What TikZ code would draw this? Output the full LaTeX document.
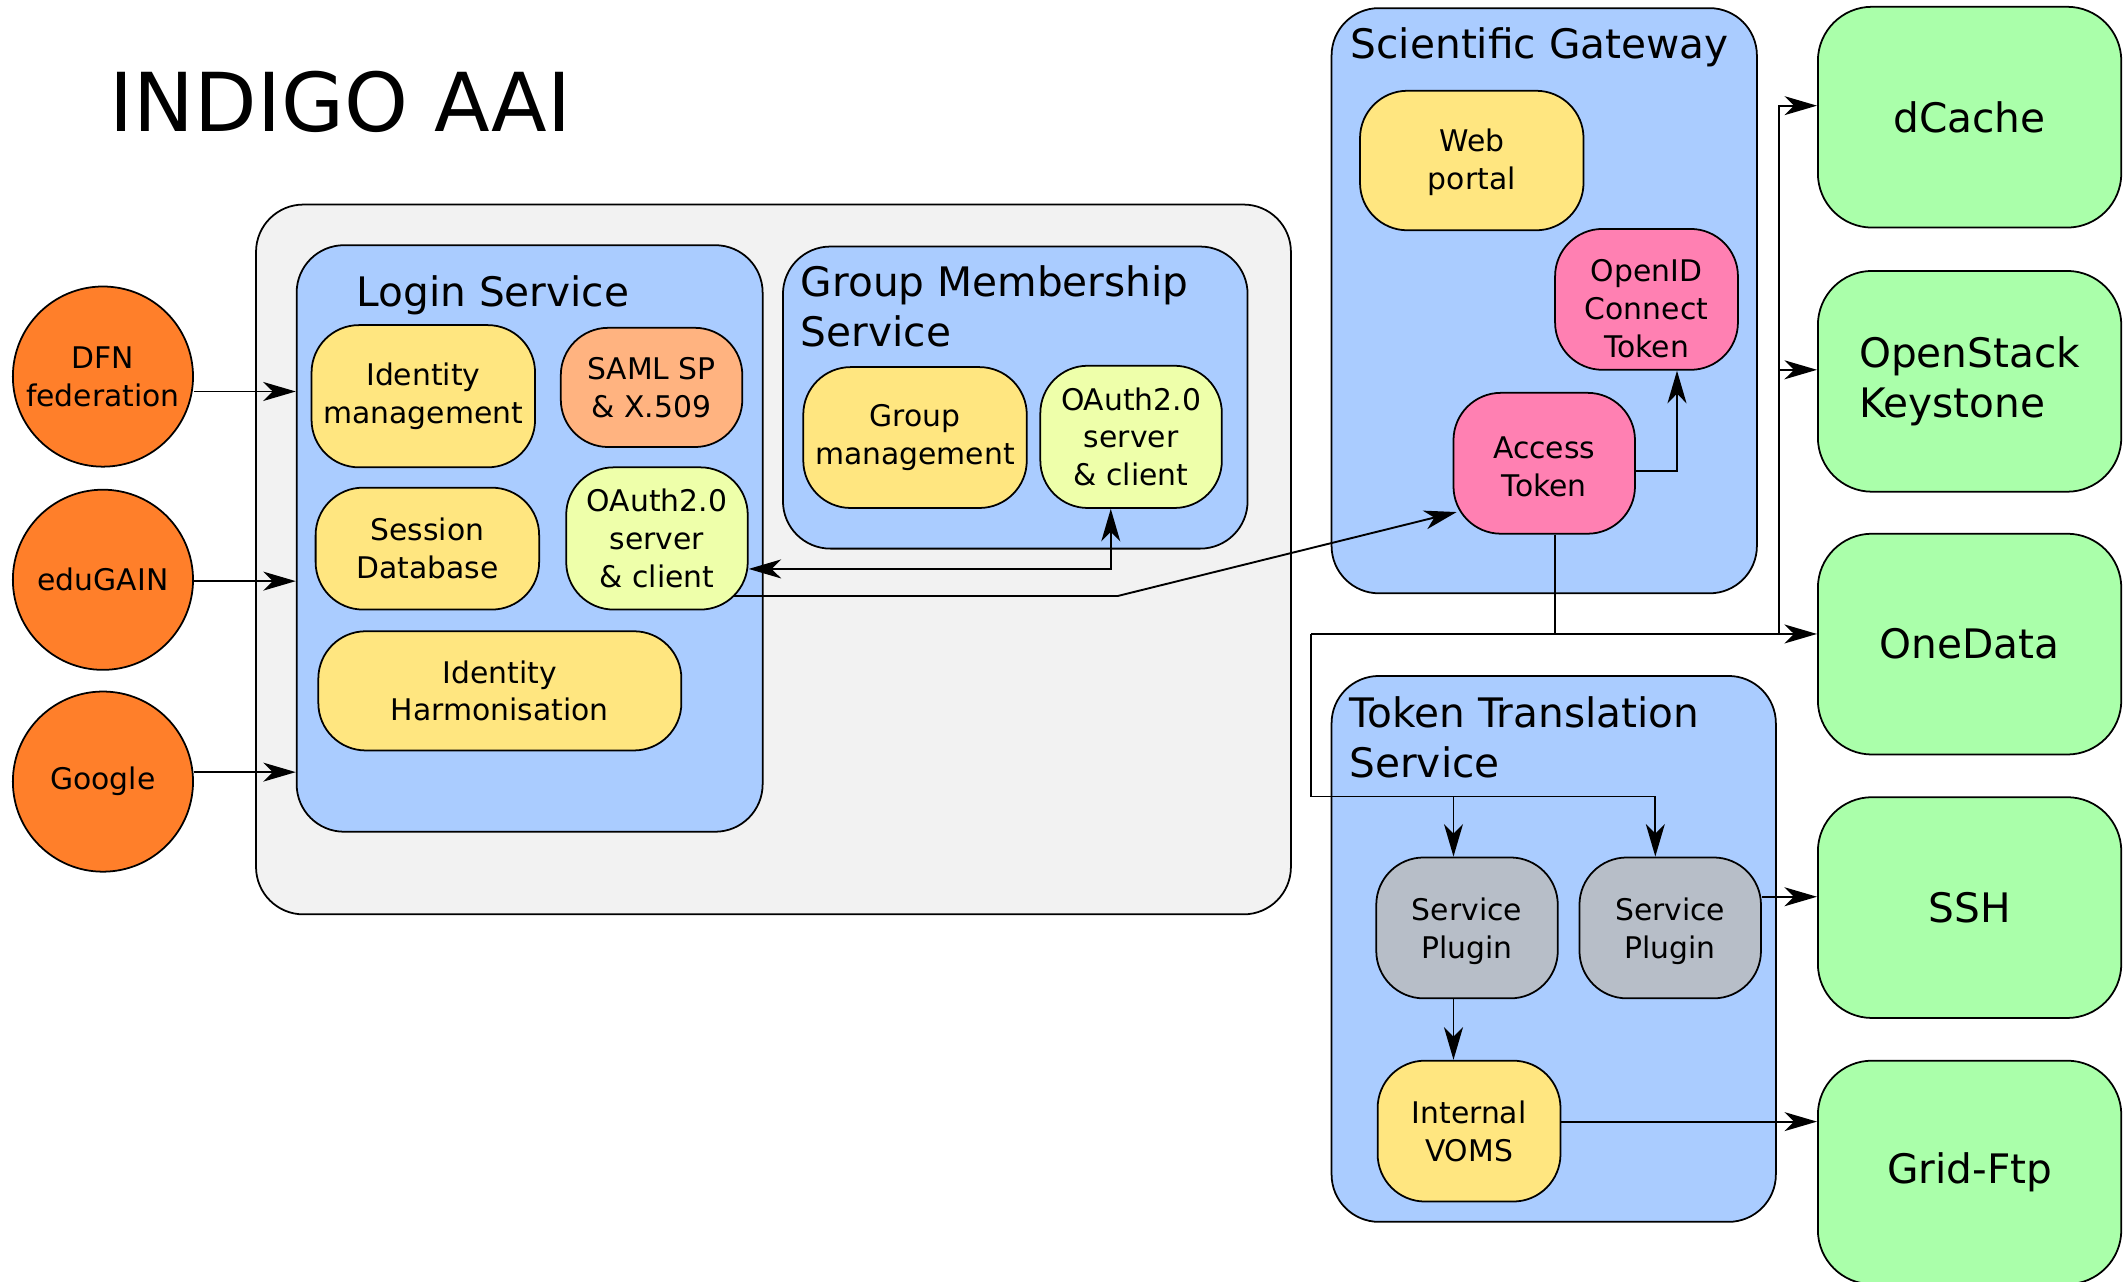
\documentclass[tikz,border=0pt]{standalone}
\usepackage{fontspec}
\setmainfont{DejaVu Sans}
\usetikzlibrary{arrows.meta}
\pgfdeclarelayer{bg}
\pgfdeclarelayer{conn}
\pgfsetlayers{bg,conn,main}
\definecolor{corange}{HTML}{FF7F2A}
\definecolor{cblue}{HTML}{AACCFF}
\definecolor{cgrey}{HTML}{F2F2F2}
\definecolor{cyellow}{HTML}{FFE680}
\definecolor{csalmon}{HTML}{FFB380}
\definecolor{clime}{HTML}{EEFFAA}
\definecolor{cpink}{HTML}{FF80B2}
\definecolor{cplug}{HTML}{B7BEC8}
\definecolor{cgreen}{HTML}{AAFFAA}
\tikzset{
  cont/.style={draw, line width=1.3pt, rounded corners=35pt, fill=cblue, inner sep=0pt},
  ttl/.style={inner sep=0pt, align=left, font=\fontsize{30}{37}\selectfont},
  box/.style={draw, line width=1.3pt, rounded corners=35pt, align=center, inner sep=0pt,
    font=\fontsize{22}{28}\selectfont, minimum width=134pt, minimum height=105pt},
  gbox/.style={draw, line width=1.3pt, rounded corners=40pt, fill=cgreen, align=left, inner sep=0pt,
    minimum width=224pt, minimum height=163pt, font=\fontsize{30}{37}\selectfont},
  idp/.style={circle, draw, line width=1.3pt, fill=corange, minimum size=133pt, inner sep=0pt,
    align=center, font=\fontsize{22}{28}\selectfont},
  tip/.tip={Stealth[length=24pt,width=14pt,inset=7pt]},
  arr/.style={line width=1.4pt, -tip},
  arrb/.style={line width=1.4pt, tip-tip},
  ln/.style={line width=1.4pt}
}
\begin{document}
\begin{tikzpicture}[x=1pt,y=-1pt]
\useasboundingbox (0,0) rectangle (1568,946);

\node[anchor=base west, inner sep=0pt, font=\fontsize{60}{72}\selectfont] (title) at (81,97) {INDIGO AAI};

\begin{pgfonlayer}{bg}
\node[cont, fill=cgrey, minimum width=764pt, minimum height=524pt] (aai) at (571,413) {};
\node[cont, minimum width=344pt, minimum height=433pt] (login) at (391,397.5) {};
\node[cont, minimum width=343pt, minimum height=223pt] (gms) at (749.5,293.5) {};
\node[cont, minimum width=314pt, minimum height=432pt] (sg) at (1140,222) {};
\node[cont, minimum width=328pt, minimum height=403pt] (tts) at (1147,700.5) {};
\end{pgfonlayer}

% container titles
\node[ttl, anchor=base west] (loginT) at (263,226) {Login Service};
\node[ttl, anchor=west] (gmsT) at (591,226) {Group Membership\\Service};
\node[ttl, anchor=base west] (sgT) at (997,43) {Scientific Gateway};
\node[ttl, anchor=west] (ttsT) at (996,544) {Token Translation\\Service};

% identity providers
\node[idp] (dfn) at (76,278) {DFN\\federation};
\node[idp] (edugain) at (76,428) {eduGAIN};
\node[idp] (google) at (76,577) {Google};

% login service
\node[box, fill=cyellow, minimum width=165pt] (idm) at (312.5,292.5) {Identity\\management};
\node[box, fill=csalmon, minimum height=88pt] (saml) at (481,286) {SAML SP\\\& X.509};
\node[box, fill=cyellow, minimum width=165pt, minimum height=90pt] (sessdb) at (315.5,405) {Session\\Database};
\node[box, fill=clime] (oauthL) at (485,397.5) {OAuth2.0\\server\\\& client};
\node[box, fill=cyellow, minimum width=268pt, minimum height=88pt] (idh) at (369,510) {Identity\\Harmonisation};

% group membership service
\node[box, fill=cyellow, minimum width=165pt, minimum height=104pt] (grpm) at (675.5,323) {Group\\management};
\node[box, fill=clime] (oauthR) at (835,322.5) {OAuth2.0\\server\\\& client};

% scientific gateway
\node[box, fill=cyellow, minimum width=165pt, minimum height=103pt] (web) at (1086.5,118.5) {\rule{0pt}{19pt}Web\\portal};
\node[box, fill=cpink, minimum width=135pt, minimum height=104pt] (oidc) at (1215.5,221) {\rule{0pt}{30.5pt}OpenID\\Connect\\Token};
\node[box, fill=cpink, minimum height=104pt] (at) at (1140,342) {\rule{0pt}{21pt}Access\\Token};

% token translation service
\node[box, fill=cplug, minimum height=104pt] (sp1) at (1083,685) {\rule{0pt}{21pt}Service\\Plugin};
\node[box, fill=cplug, minimum height=104pt] (sp2) at (1233,685) {\rule{0pt}{21pt}Service\\Plugin};
\node[box, fill=cyellow, minimum width=135pt, minimum height=104pt] (voms) at (1084.5,835) {Internal\\VOMS};

% services
\node[gbox] (dcache) at (1454,86.5) {dCache};
\node[gbox] (openstack) at (1454,281.5) {OpenStack\\Keystone};
\node[gbox] (onedata) at (1454,475.5) {OneData};
\node[gbox] (ssh) at (1454,670) {SSH};
\node[gbox, minimum height=165pt] (gridftp) at (1454,865.5) {Grid-Ftp};

% junctions
\coordinate (bend1) at (825,440);
\coordinate (j0) at (968,468);
\coordinate (j1) at (1313,468);
\coordinate (j2) at (968,588);

\begin{pgfonlayer}{conn}
\draw[arr] ([yshift=-11pt]dfn.east) -- ([yshift=-11pt]dfn.east -| login.west);
\draw[arr] ([yshift=-1pt]edugain.east) -- ([yshift=-1pt]edugain.east -| login.west);
\draw[arr] ([yshift=7pt]google.east) -- ([yshift=7pt]google.east -| login.west);

\draw[arrb] ([yshift=-22.5pt]oauthL.east) -| ([xshift=-15pt]oauthR.south);
\draw[arr] ([yshift=-42.5pt]oauthL.center) -- (bend1) -- ([xshift=3pt,yshift=-36pt]at.west);
\draw[arr] ([yshift=-6pt]at.east) -| ([xshift=22.5pt]oidc.south);

\draw[ln] ([xshift=8pt]at.south) -- ([xshift=8pt]at.south |- j0);
\draw[arr] (j0) -- (j0 -| onedata.west);
\draw[arr] (j1) |- ([yshift=8.5pt]dcache.west);
\draw[arr] (j1) |- ([yshift=8.5pt]openstack.west);
\draw[arr] (j0) |- ([xshift=-11pt]sp2.north |- j2) -- ([xshift=-11pt]sp2.north);
\draw[arr] ([xshift=-10pt]sp1.north |- j2) -- ([xshift=-10pt]sp1.north);

\draw[arr] ([yshift=23pt]sp2.east) -- ([yshift=23pt]sp2.east -| ssh.west);
\draw[arr] ([xshift=-10pt]sp1.south) -- ([xshift=-10pt]sp1.south |- voms.north);
\draw[arr] ([yshift=7pt]voms.east) -- ([yshift=7pt]voms.east -| gridftp.west);
\end{pgfonlayer}
\end{tikzpicture}
\end{document}
